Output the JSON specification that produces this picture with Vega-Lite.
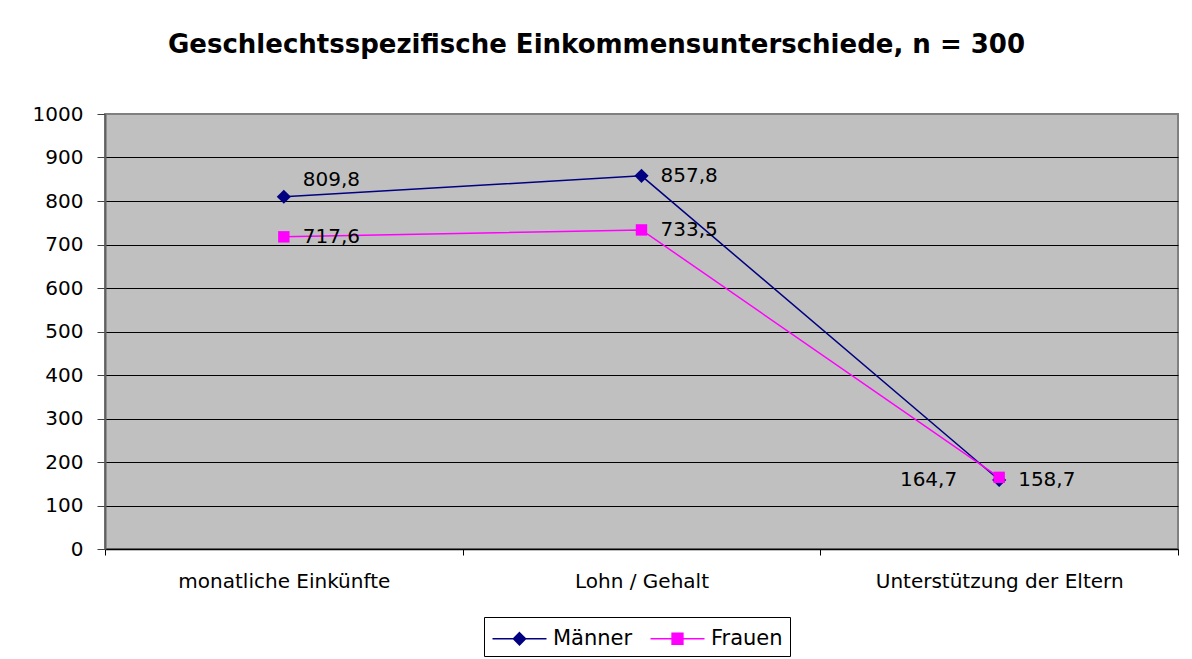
{
  "$schema": "https://vega.github.io/schema/vega-lite/v6.json",
  "width": 1073,
  "height": 435,
  "autosize": {"type": "none"},
  "padding": {"left": 105, "top": 114, "right": 14, "bottom": 110},
  "background": "white",
  "title": {
    "text": "Geschlechtsspezifische Einkommensunterschiede, n = 300",
    "font": "DejaVu Sans",
    "fontSize": 26,
    "fontWeight": "bold",
    "color": "black",
    "anchor": "middle",
    "frame": "group",
    "dx": -45,
    "offset": 46
  },
  "data": {
    "values": [
      {"kategorie": "monatliche Einkünfte", "gruppe": "Männer", "wert": 809.8},
      {"kategorie": "Lohn / Gehalt", "gruppe": "Männer", "wert": 857.8},
      {"kategorie": "Unterstützung der Eltern", "gruppe": "Männer", "wert": 158.7},
      {"kategorie": "monatliche Einkünfte", "gruppe": "Frauen", "wert": 717.6},
      {"kategorie": "Lohn / Gehalt", "gruppe": "Frauen", "wert": 733.5},
      {"kategorie": "Unterstützung der Eltern", "gruppe": "Frauen", "wert": 164.7}
    ]
  },
  "encoding": {
    "x": {
      "field": "kategorie",
      "type": "nominal",
      "sort": ["monatliche Einkünfte", "Lohn / Gehalt", "Unterstützung der Eltern"],
      "bandPosition": 0.5,
      "scale": {"type": "band", "paddingInner": 0, "paddingOuter": 0},
      "axis": {
        "title": null,
        "labelAngle": 0,
        "labelLimit": 0,
        "labelFont": "DejaVu Sans",
        "labelFontSize": 20,
        "labelColor": "black",
        "tickBand": "extent",
        "tickSize": 6,
        "tickColor": "black",
        "domainColor": "black",
        "domainWidth": 1.5,
        "labelPadding": 16,
        "grid": false
      }
    },
    "y": {
      "field": "wert",
      "type": "quantitative",
      "scale": {"domain": [0, 1000], "nice": false},
      "axis": {
        "title": null,
        "values": [0, 100, 200, 300, 400, 500, 600, 700, 800, 900, 1000],
        "format": "d",
        "labelFont": "DejaVu Sans",
        "labelFontSize": 20,
        "labelColor": "black",
        "labelPadding": 14,
        "tickSize": 8,
        "tickColor": "#404040",
        "domainColor": "#606060",
        "domainWidth": 2,
        "grid": true,
        "gridColor": {"condition": {"test": "datum.value >= 1000 || datum.value <= 0", "value": "transparent"}, "value": "black"},
        "gridWidth": 1
      }
    }
  },
  "layer": [
    {
      "transform": [{"filter": "datum.gruppe === 'Männer'"}],
      "mark": {"type": "line", "strokeWidth": 1.5, "color": "#000080"},
      "encoding": {}
    },
    {
      "transform": [{"filter": "datum.gruppe === 'Frauen'"}],
      "mark": {"type": "line", "strokeWidth": 1.5, "color": "#FF00FF"},
      "encoding": {}
    },
    {
      "transform": [{"filter": "datum.gruppe === 'Männer'"}],
      "mark": {"type": "point", "shape": "diamond", "filled": true, "opacity": 1, "size": 200, "color": "#000080"}
    },
    {
      "transform": [{"filter": "datum.gruppe === 'Frauen'"}],
      "mark": {"type": "point", "shape": "square", "filled": true, "opacity": 1, "size": 130, "color": "#FF00FF"}
    },
    {
      "transform": [{"filter": "false"}],
      "mark": {"type": "point", "filled": true, "opacity": 1, "strokeWidth": 1.5},
      "encoding": {
        "color": {
          "field": "gruppe",
          "type": "nominal",
          "scale": {"domain": ["Männer", "Frauen"], "range": ["#000080", "#FF00FF"]},
          "legend": {
            "title": null,
            "orient": "none",
            "legendX": 379,
            "legendY": 503,
            "direction": "horizontal",
            "labelFont": "DejaVu Sans",
            "labelFontSize": 21,
            "labelColor": "black",
            "strokeColor": "black",
            "fillColor": "white",
            "padding": 7,
            "symbolSize": 729,
            "symbolOffset": 14,
            "symbolStrokeWidth": 1.5,
            "labelOffset": 19,
            "columnPadding": 14
          }
        },
        "stroke": {
          "field": "gruppe",
          "type": "nominal",
          "scale": {"domain": ["Männer", "Frauen"], "range": ["#000080", "#FF00FF"]},
          "legend": {
            "title": null,
            "orient": "none",
            "legendX": 379,
            "legendY": 503,
            "direction": "horizontal",
            "labelFont": "DejaVu Sans",
            "labelFontSize": 21,
            "labelColor": "black",
            "strokeColor": "black",
            "fillColor": "white",
            "padding": 7,
            "symbolSize": 729,
            "symbolOffset": 14,
            "symbolStrokeWidth": 1.5,
            "labelOffset": 19,
            "columnPadding": 14
          }
        },
        "shape": {
          "field": "gruppe",
          "type": "nominal",
          "scale": {"domain": ["Männer", "Frauen"], "range": ["M-2,0H2M0,-0.45L0.45,0L0,0.45L-0.45,0Z", "M-2,0H2M-0.4,-0.4H0.4V0.4H-0.4Z"]},
          "legend": {
            "title": null,
            "orient": "none",
            "legendX": 379,
            "legendY": 503,
            "direction": "horizontal",
            "labelFont": "DejaVu Sans",
            "labelFontSize": 21,
            "labelColor": "black",
            "strokeColor": "black",
            "fillColor": "white",
            "padding": 7,
            "symbolSize": 729,
            "symbolOffset": 14,
            "symbolStrokeWidth": 1.5,
            "labelOffset": 19,
            "columnPadding": 14
          }
        }
      }
    },
    {
      "transform": [{"filter": "(datum.gruppe === 'Männer' && datum.kategorie !== 'monatliche Einkünfte') || (datum.gruppe === 'Frauen' && datum.kategorie !== 'Unterstützung der Eltern')"}],
      "mark": {"type": "text", "align": "left", "baseline": "middle", "dx": 19, "font": "DejaVu Sans", "fontSize": 20, "color": "black"},
      "encoding": {"text": {"field": "wert", "type": "quantitative", "format": ".1f"}}
    },
    {
      "transform": [{"filter": "datum.gruppe === 'Männer' && datum.kategorie === 'monatliche Einkünfte'"}],
      "mark": {"type": "text", "align": "left", "baseline": "middle", "dx": 19, "dy": -17, "font": "DejaVu Sans", "fontSize": 20, "color": "black"},
      "encoding": {"text": {"field": "wert", "type": "quantitative", "format": ".1f"}}
    },
    {
      "transform": [{"filter": "datum.gruppe === 'Frauen' && datum.kategorie === 'Unterstützung der Eltern'"}],
      "mark": {"type": "text", "align": "right", "baseline": "middle", "dx": -42, "dy": 3, "font": "DejaVu Sans", "fontSize": 20, "color": "black"},
      "encoding": {"text": {"field": "wert", "type": "quantitative", "format": ".1f"}}
    }
  ],
  "config": {
    "locale": {"number": {"decimal": ",", "thousands": ".", "grouping": [3], "currency": ["", " €"]}},
    "view": {"fill": "#C0C0C0", "stroke": "#808080", "strokeWidth": 2}
  }
}
